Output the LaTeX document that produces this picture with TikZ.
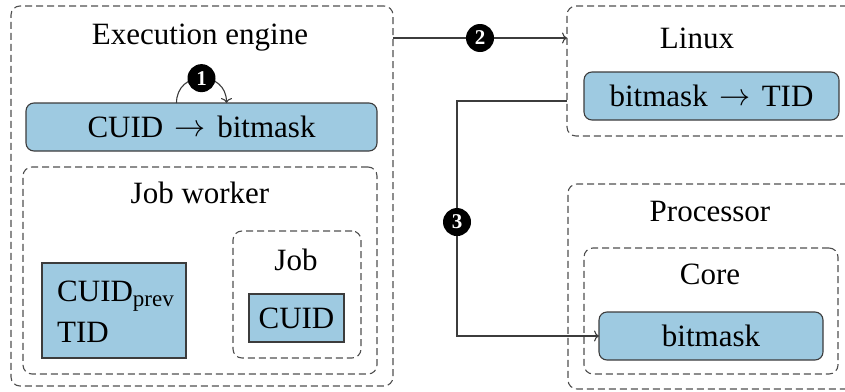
\documentclass[tikz,border=0pt]{standalone}
\usepackage{graphicx}
\usepackage{fontspec}
\setmainfont{Liberation Serif}
\usetikzlibrary{arrows.meta,calc}
\definecolor{boxblue}{RGB}{158,202,225}
\definecolor{dashgray}{RGB}{80,80,80}
\definecolor{linegray}{RGB}{60,60,60}
\newcommand{\bigarr}{\hspace{0.12em}\raisebox{1pt}{\scalebox{1.25}{$\rightarrow$}}\hspace{0.12em}}
\begin{document}
\begin{tikzpicture}[x=1pt,y=-1pt,
  group/.style={draw=dashgray,dash pattern=on 7pt off 4pt,line width=1.1pt,rounded corners=9pt,
    rectangle,inner sep=0pt,outer sep=0pt},
  bluebox/.style={draw=linegray,fill=boxblue,line width=1.1pt,rectangle,inner sep=0pt,outer sep=0pt,
    font=\fontsize{31}{38}\selectfont},
  roundbox/.style={bluebox,rounded corners=8pt},
  txt/.style={font=\fontsize{31}{38}\selectfont,inner sep=0pt},
  marker/.style={circle,fill=black,text=white,font=\fontsize{21}{21}\selectfont\bfseries,
    inner sep=0pt,minimum size=28pt},
  conn/.style={draw=linegray,line width=1.1pt,-{To[length=5pt,width=11pt]}}
]
\clip (0,0) rectangle (845,391);
% groups
\node[group,minimum width=382pt,minimum height=380pt] (exec) at (202,196) {};
\node[group,minimum width=333pt,minimum height=130pt] (linux) at (733.5,71) {};
\node[group,minimum width=332pt,minimum height=205pt] (proc) at (734,286.5) {};
\node[group,minimum width=354pt,minimum height=207pt] (worker) at (200,270.5) {};
\node[group,minimum width=128pt,minimum height=127pt] (job) at (297,294.5) {};
\node[group,minimum width=254pt,minimum height=126pt] (core) at (711,311) {};
% titles
\node[txt] (exect) at (200,38) {Execution engine};
\node[txt] (linuxt) at (697,38) {Linux};
\node[txt] (proct) at (710,211) {Processor};
\node[txt] (workert) at (200,193) {Job worker};
\node[txt] (jobt) at (296,260) {Job};
\node[txt] (coret) at (710,274) {Core};
% blue boxes
\node[roundbox,minimum width=351pt,minimum height=48pt] (cb) at (201.5,127) {CUID \bigarr{} bitmask};
\node[roundbox,minimum width=255pt,minimum height=48pt] (ltid) at (711.5,96) {bitmask \bigarr{} TID};
\node[roundbox,minimum width=224pt,minimum height=48pt] (bm) at (711,336) {bitmask};
\node[bluebox,minimum width=144pt,minimum height=95pt] (prev) at (114,310.5) {};
\node[txt,anchor=west,align=left,font=\fontsize{31}{41}\selectfont] (prevt) at (57,312)
  {CUID\raisebox{-5pt}{\fontsize{23}{23}\selectfont prev}\\TID};
\node[bluebox,minimum width=95pt,minimum height=48pt] (cuid) at (296.5,318) {CUID};
% connectors
\draw[conn] ([xshift=-25pt]cb.north) to[out=90,in=90,looseness=1.7]
  node[marker,pos=0.5] (m1) {1} ([xshift=25pt]cb.north);
\draw[conn] (exec.east |- linuxt) -- (linux.west |- linuxt) node[marker,midway] (m2) {2};
\coordinate (s3) at ($(linux.west |- ltid.center)+(0,5)$);
\coordinate (c3) at ($(s3)+(-110,0)$);
\draw[conn] (s3) -- (c3) -- (c3 |- bm.west) node[marker,pos=0.515] (m3) {3} -- (bm.west);
\end{tikzpicture}
\end{document}
